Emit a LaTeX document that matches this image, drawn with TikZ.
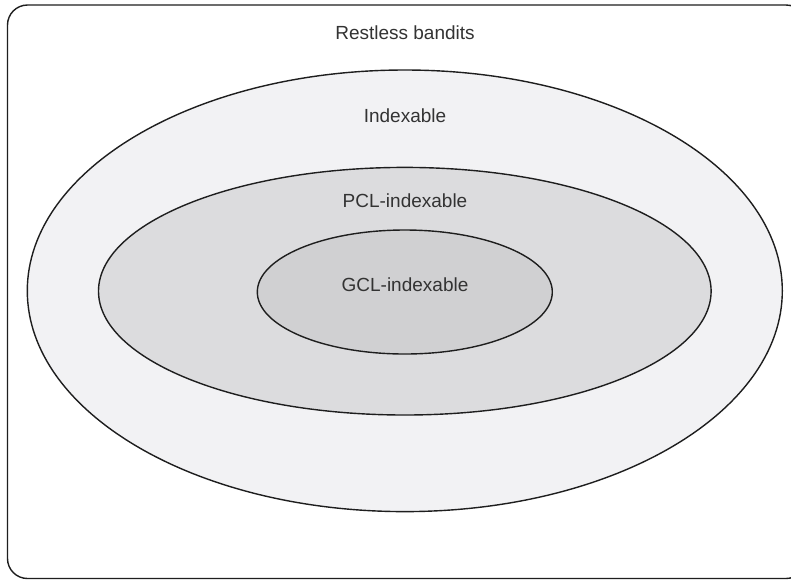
\documentclass[tikz,border=0pt]{standalone}
\usepackage{fontspec}
\setmainfont{Liberation Sans}
\definecolor{txt}{HTML}{333333}
\definecolor{fillA}{HTML}{F2F2F4}
\definecolor{fillB}{HTML}{DCDCDE}
\definecolor{fillC}{HTML}{D0D0D2}
\definecolor{edge}{HTML}{1E1E1E}
\tikzset{
  region/.style={draw=edge, line width=1.4pt},
  lbl/.style={text=txt, font=\fontsize{19}{21}\selectfont, inner sep=0pt}
}
\begin{document}
\begin{tikzpicture}[x=1pt,y=-1pt]
\useasboundingbox (0,0) rectangle (791,582);
\clip (0,0) rectangle (791,582);
\fill[white] (0,0) rectangle (791,582);
\draw[region, fill=white, rounded corners=20pt] (7.5,5) rectangle (806,578.5);
\draw[region, fill=fillA] (404.8,290.8) ellipse [x radius=377.5, y radius=220.8];
\draw[region, fill=fillB] (404.8,291.2) ellipse [x radius=306.3, y radius=123.8];
\draw[region, fill=fillC] (404.8,292) ellipse [x radius=147.5, y radius=62];
\node[lbl] (rb) at (405,33) {Restless bandits};
\node[lbl] (ix) at (405,115.5) {Indexable};
\node[lbl] (pcl) at (405,200.5) {PCL-indexable};
\node[lbl] (gcl) at (405,284.5) {GCL-indexable};
\end{tikzpicture}
\end{document}
